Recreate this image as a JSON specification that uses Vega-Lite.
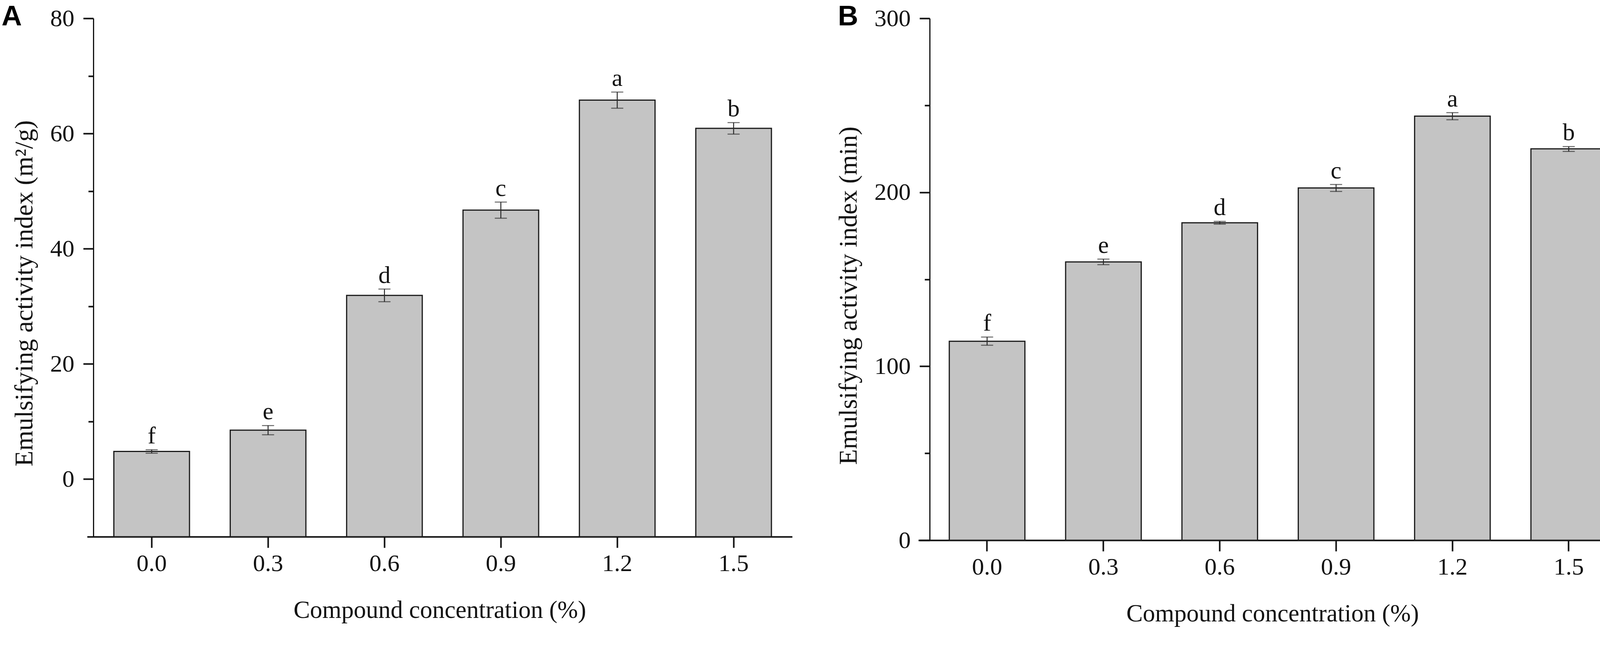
{
  "$schema": "https://vega.github.io/schema/vega-lite/v6.json",
  "description": "Emulsifying activity index (A) and emulsion stability (B) against compound concentration, bars with SD error bars and significance letters.",
  "autosize": {"type": "pad"},
  "padding": {"left": 4, "top": 7, "right": 11, "bottom": 32},
  "background": "white",
  "bounds": "flush",
  "spacing": 323,
  "datasets": {
    "eai": [
      {"c": "0.0", "mean": 4.8, "lo": 4.5, "hi": 5.1, "label": "f"},
      {"c": "0.3", "mean": 8.5, "lo": 7.7, "hi": 9.3, "label": "e"},
      {"c": "0.6", "mean": 31.9, "lo": 30.8, "hi": 33.0, "label": "d"},
      {"c": "0.9", "mean": 46.7, "lo": 45.3, "hi": 48.1, "label": "c"},
      {"c": "1.2", "mean": 65.8, "lo": 64.4, "hi": 67.2, "label": "a"},
      {"c": "1.5", "mean": 60.9, "lo": 59.9, "hi": 61.9, "label": "b"}
    ],
    "esi": [
      {"c": "0.0", "mean": 114.4, "lo": 112.1, "hi": 116.8, "label": "f"},
      {"c": "0.3", "mean": 160.0, "lo": 158.4, "hi": 161.6, "label": "e"},
      {"c": "0.6", "mean": 182.5, "lo": 181.7, "hi": 183.3, "label": "d"},
      {"c": "0.9", "mean": 202.5, "lo": 200.5, "hi": 204.5, "label": "c"},
      {"c": "1.2", "mean": 243.8, "lo": 241.7, "hi": 245.8, "label": "a"},
      {"c": "1.5", "mean": 225.0, "lo": 223.5, "hi": 226.3, "label": "b"}
    ]
  },
  "hconcat": [
    {
      "data": {"name": "eai"},
      "width": 1805,
      "height": 1328,
      "title": {
        "text": "A", "orient": "top", "anchor": "start", "frame": "group",
        "align": "left", "baseline": "alphabetic", "dx": -219, "offset": -121,
        "font": "Liberation Sans", "fontSize": 72, "fontWeight": "bold", "color": "#000"
      },
      "layer": [
        {
          "mark": {"type": "bar", "fill": "#c4c4c4", "stroke": "#1a1a1a", "strokeWidth": 3},
          "encoding": {
            "x": {
              "field": "c", "type": "nominal", "sort": null,
              "scale": {"paddingInner": 0.35, "paddingOuter": 0.204, "align": 0.563},
              "axis": {
                "title": "Compound concentration (%)", "labelAngle": 0,
                "tickSize": 28, "tickWidth": 4, "domainWidth": 4,
                "labelPadding": 10, "titlePadding": 58,
                "labelFontSize": 62, "titleFontSize": 63
              }
            },
            "y": {
              "field": "mean", "type": "quantitative",
              "title": "Emulsifying activity index (m²/g)",
              "scale": {"domain": [-10, 80], "nice": false, "zero": false},
              "axis": {
                "values": [0, 10, 20, 30, 40, 50, 60, 70, 80],
                "labelExpr": "datum.value % 20 === 0 ? datum.label : ''",
                "tickSize": {"condition": {"test": "datum.value % 20 === 0", "value": 26}, "value": 13},
                "offset": -16, "titleY": 704,
                "tickWidth": 4, "domainWidth": 3,
                "labelPadding": 23, "titlePadding": 32,
                "labelFontSize": 62, "titleFontSize": 66
              }
            },
            "y2": {"datum": -10}
          }
        },
        {
          "mark": {
            "type": "errorbar", "color": "#2a2a2a", "thickness": 2.5,
            "ticks": {"size": 31, "thickness": 2.5, "color": "#2a2a2a"}
          },
          "encoding": {
            "x": {"field": "c", "type": "nominal", "sort": null},
            "y": {"field": "lo", "type": "quantitative", "title": "Emulsifying activity index (m²/g)"},
            "y2": {"field": "hi"}
          }
        },
        {
          "mark": {
            "type": "text", "baseline": "alphabetic", "dy": -16,
            "font": "Liberation Serif", "fontSize": 62, "color": "#111"
          },
          "encoding": {
            "x": {"field": "c", "type": "nominal", "sort": null},
            "y": {"field": "hi", "type": "quantitative", "title": "Emulsifying activity index (m²/g)"},
            "text": {"field": "label"}
          }
        }
      ]
    },
    {
      "data": {"name": "esi"},
      "width": 1813,
      "height": 1337,
      "title": {
        "text": "B", "orient": "top", "anchor": "start", "frame": "group",
        "align": "left", "baseline": "alphabetic", "dx": -206, "offset": -121,
        "font": "Liberation Sans", "fontSize": 72, "fontWeight": "bold", "color": "#000"
      },
      "layer": [
        {
          "mark": {"type": "bar", "fill": "#c4c4c4", "stroke": "#1a1a1a", "strokeWidth": 3},
          "encoding": {
            "x": {
              "field": "c", "type": "nominal", "sort": null,
              "scale": {"paddingInner": 0.35, "paddingOuter": 0.219, "align": 0.607},
              "axis": {
                "title": "Compound concentration (%)", "labelAngle": 0,
                "tickSize": 28, "tickWidth": 4, "domainWidth": 4,
                "labelPadding": 10, "titlePadding": 58,
                "labelFontSize": 62, "titleFontSize": 63
              }
            },
            "y": {
              "field": "mean", "type": "quantitative",
              "title": "Emulsifying activity index (min)",
              "scale": {"domain": [0, 300], "nice": false, "zero": false},
              "axis": {
                "values": [0, 50, 100, 150, 200, 250, 300],
                "labelExpr": "datum.value % 100 === 0 ? datum.label : ''",
                "tickSize": {"condition": {"test": "datum.value % 100 === 0", "value": 26}, "value": 13},
                "offset": -29, "titleY": 710,
                "tickWidth": 4, "domainWidth": 3,
                "labelPadding": 23, "titlePadding": 32,
                "labelFontSize": 62, "titleFontSize": 66
              }
            },
            "y2": {"datum": 0}
          }
        },
        {
          "mark": {
            "type": "errorbar", "color": "#2a2a2a", "thickness": 2.5,
            "ticks": {"size": 31, "thickness": 2.5, "color": "#2a2a2a"}
          },
          "encoding": {
            "x": {"field": "c", "type": "nominal", "sort": null},
            "y": {"field": "lo", "type": "quantitative", "title": "Emulsifying activity index (min)"},
            "y2": {"field": "hi"}
          }
        },
        {
          "mark": {
            "type": "text", "baseline": "alphabetic", "dy": -16,
            "font": "Liberation Serif", "fontSize": 62, "color": "#111"
          },
          "encoding": {
            "x": {"field": "c", "type": "nominal", "sort": null},
            "y": {"field": "hi", "type": "quantitative", "title": "Emulsifying activity index (min)"},
            "text": {"field": "label"}
          }
        }
      ]
    }
  ],
  "config": {
    "view": {"stroke": null},
    "font": "Liberation Serif",
    "axis": {
      "labelFont": "Liberation Serif", "titleFont": "Liberation Serif",
      "labelColor": "#111", "titleColor": "#111",
      "domainColor": "#111", "tickColor": "#111",
      "titleFontWeight": "normal", "grid": false
    }
  }
}
